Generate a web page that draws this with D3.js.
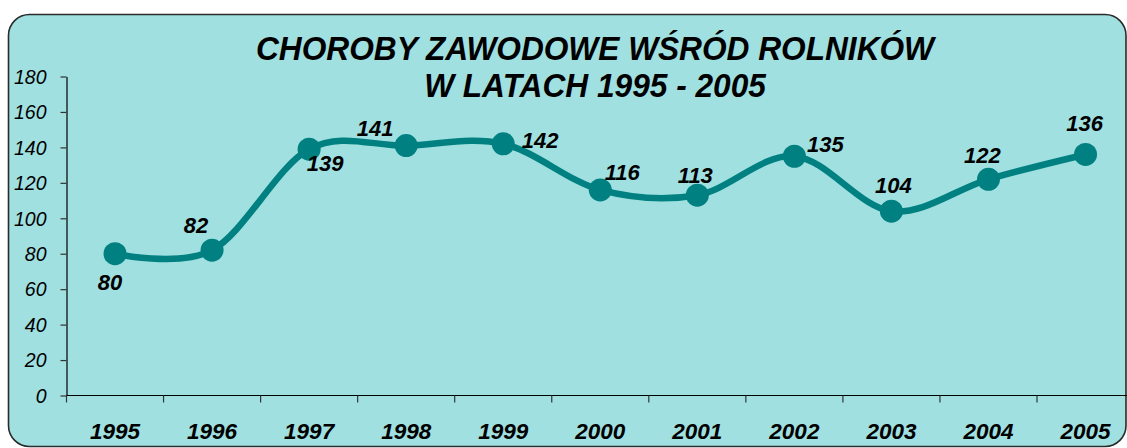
<!DOCTYPE html>
<html>
<head>
<meta charset="utf-8">
<script src="https://cdn.jsdelivr.net/npm/d3@7"></script>
<style>
html,body{margin:0;padding:0;background:#fff;}
svg{display:block;}
</style>
</head>
<body>
<svg id="chart" width="1127" height="448"></svg>
<script>
const years = ["1995","1996","1997","1998","1999","2000","2001","2002","2003","2004","2005"];
const cases = [80, 82, 139, 141, 142, 116, 113, 135, 104, 122, 136];
const yTicks = [0, 20, 40, 60, 80, 100, 120, 140, 160, 180];
const titleLines = ["CHOROBY ZAWODOWE WŚRÓD ROLNIKÓW", "W LATACH 1995 - 2005"];
// label offsets relative to each marker (dx, dy to baseline)
const labelDx = [-5, -16, 16, -31, 37, 22, -2, 31, 2, -6, -1];
const labelDy = [36, -17, 22, -10, 4, -10, -12, -4, -18, -16, -23];

const svg = d3.select("#chart");
const font = "'Liberation Sans', Arial, sans-serif";

svg.append("rect")
  .attr("x", 8.5).attr("y", 14.5)
  .attr("width", 1117.5).attr("height", 432)
  .attr("rx", 21).attr("ry", 21)
  .attr("fill", "#a0e0e0")
  .attr("stroke", "#2a2a2a").attr("stroke-width", 1.6);

const x0 = 66.5, y0 = 395.5, yTop = 76.5;
const band = 97.05;
const x = d3.scaleBand().domain(years).range([x0, x0 + band * years.length]).paddingInner(0).paddingOuter(0);
const y = d3.scaleLinear().domain([0, 180]).range([y0, yTop]);

// title
const tg = svg.append("g").attr("transform", "translate(595,0) scale(0.945,1)");
const t = tg.append("text")
  .attr("text-anchor", "middle")
  .attr("font-family", font).attr("font-weight", "bold").attr("font-style", "italic")
  .attr("font-size", 33.5).attr("fill", "#000");
titleLines.forEach((l, i) => {
  t.append("tspan").attr("x", 0).attr("y", 60 + i * 37).text(l);
});

// y axis
const yAxis = d3.axisLeft(y).tickValues(yTicks).tickSize(6).tickPadding(14).tickSizeOuter(0);
const gy = svg.append("g").attr("transform", `translate(${x0},0)`).call(yAxis);
gy.select(".domain").attr("stroke", "#000").attr("stroke-width", 1.2);
gy.selectAll(".tick line").attr("stroke", "#333").attr("stroke-width", 1.2);
gy.selectAll(".tick text")
  .attr("font-family", font).attr("font-style", "italic")
  .attr("font-size", 19.5).attr("fill", "#000").attr("dy", "0.35em");

// x axis
const gx = svg.append("g").attr("transform", `translate(0,${y0})`);
gx.append("line").attr("x1", x0).attr("x2", 1127).attr("y1", 0).attr("y2", 0)
  .attr("stroke", "#000").attr("stroke-width", 1.2);
const boundaries = years.map(d => x(d)).concat([x(years[years.length - 1]) + x.bandwidth()]);
gx.selectAll("line.tk").data(boundaries).enter().append("line")
  .attr("class", "tk")
  .attr("x1", d => d).attr("x2", d => d).attr("y1", 0).attr("y2", 7)
  .attr("stroke", "#333").attr("stroke-width", 1.2);
gx.selectAll("text").data(years).enter().append("text")
  .attr("x", d => x(d) + x.bandwidth() / 2)
  .attr("y", 43)
  .attr("text-anchor", "middle")
  .attr("font-family", font).attr("font-weight", "bold").attr("font-style", "italic")
  .attr("font-size", 22.5).attr("fill", "#000")
  .text(d => d);

// line
const cx = (d, i) => x(years[i]) + x.bandwidth() / 2;
const line = d3.line()
  .x((d, i) => cx(d, i))
  .y(d => y(d))
  .curve(d3.curveCatmullRom.alpha(0));
svg.append("path").datum(cases)
  .attr("d", line)
  .attr("fill", "none")
  .attr("stroke", "#008080").attr("stroke-width", 6.5)
  .attr("stroke-linejoin", "round").attr("stroke-linecap", "round");

svg.selectAll("circle.pt").data(cases).enter().append("circle")
  .attr("class", "pt")
  .attr("cx", (d, i) => cx(d, i))
  .attr("cy", d => y(d))
  .attr("r", 11.5)
  .attr("fill", "#008080");

svg.selectAll("text.lbl").data(cases).enter().append("text")
  .attr("class", "lbl")
  .attr("x", (d, i) => cx(d, i) + labelDx[i])
  .attr("y", (d, i) => y(d) + labelDy[i])
  .attr("text-anchor", "middle")
  .attr("font-family", font).attr("font-weight", "bold").attr("font-style", "italic")
  .attr("font-size", 22).attr("fill", "#000")
  .text(d => d);
</script>
</body>
</html>
